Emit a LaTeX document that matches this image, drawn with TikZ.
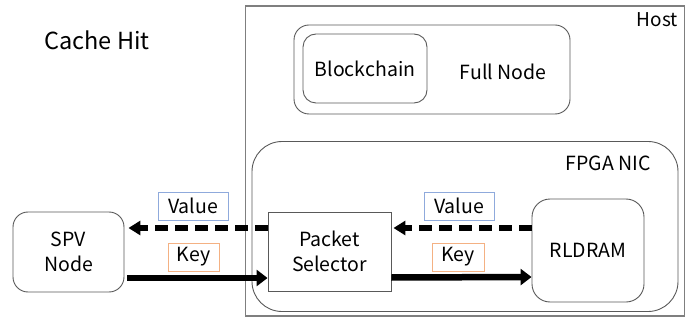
\documentclass[tikz,border=0pt]{standalone}
\usepackage{fontspec}
\setmainfont{Noto Sans CJK JP}
\usetikzlibrary{arrows.meta,calc}
\definecolor{boxgray}{HTML}{595959}
\definecolor{hostgray}{HTML}{7F7F7F}
\definecolor{valblue}{HTML}{8FAADC}
\definecolor{keyorange}{HTML}{F4B183}
\tikzset{
  box/.style={draw=boxgray, line width=0.9pt, minimum width=#1, inner sep=0pt, font=\fontsize{19.5}{25}\selectfont, align=center},
  lbl/.style={draw=#1, line width=0.9pt, inner sep=0pt, font=\fontsize{19.5}{23}\selectfont},
  big/.style={line width=6.5pt, -{Triangle[length=11pt,width=16pt]}},
  bigdash/.style={line width=5.5pt, -{Triangle[length=12pt,width=14pt]}, dash pattern=on 13pt off 7pt}
}
\begin{document}
\begin{tikzpicture}[x=1pt,y=-1pt]
\useasboundingbox (0,0) rectangle (700,320);
% Host
\node[draw=hostgray, line width=1.2pt, minimum width=439pt, minimum height=310pt, inner sep=0pt] (host) at (465,161) {};
\node[anchor=north east, font=\fontsize{19}{23}\selectfont, inner sep=0pt] (hostl) at (678,12) {Host};
% Full node
\node[box=276pt, minimum height=89pt, rounded corners=15pt] (full) at (432,69.5) {};
\node[font=\fontsize{19.5}{23}\selectfont, inner sep=0pt] (fulll) at (503,72) {Full Node};
\node[box=124pt, minimum height=69pt, rounded corners=13pt] (bc) at (365,68.5) {Blockchain};
% FPGA NIC
\node[box=426pt, minimum height=170pt, rounded corners=30pt] (fpga) at (465,226.5) {};
\node[font=\fontsize{19.5}{23}\selectfont, inner sep=0pt] (fpgal) at (608,163) {FPGA NIC};
% Title
\node[font=\fontsize{23.5}{28}\selectfont, inner sep=0pt] (title) at (97,40) {Cache Hit};
% Main nodes
\node[box=111pt, minimum height=80pt, rounded corners=15pt] (spv) at (68.5,252) {SPV\\Node};
\node[box=123pt, minimum height=79pt] (ps) at (329.5,251.5) {Packet\\Selector};
\node[box=112pt, minimum height=103pt, rounded corners=18pt] (rl) at (588,250.5) {RLDRAM};
% Labels
\node[lbl=valblue, minimum width=70pt, minimum height=28pt] (v1) at (193,206) {Value};
\node[lbl=keyorange, minimum width=51pt, minimum height=28pt] (k1) at (193.5,257) {Key};
\node[lbl=valblue, minimum width=70pt, minimum height=28pt] (v2) at (459,206) {Value};
\node[lbl=keyorange, minimum width=52pt, minimum height=28pt] (k2) at (458,257) {Key};
% Arrows
\draw[bigdash] ($(ps.west)+(0,-23.5)$) -- ($(spv.east)+(4,-24)$);
\draw[big] ($(spv.east)+(3,26)$) -- ($(ps.west)+(0,26.5)$);
\draw[bigdash] ($(rl.west)+(0,-22.5)$) -- ($(ps.east)+(2,-23.5)$);
\draw[big] ($(ps.east)+(0,26)$) -- ($(rl.west)+(0,26.5)$);
\end{tikzpicture}
\end{document}
